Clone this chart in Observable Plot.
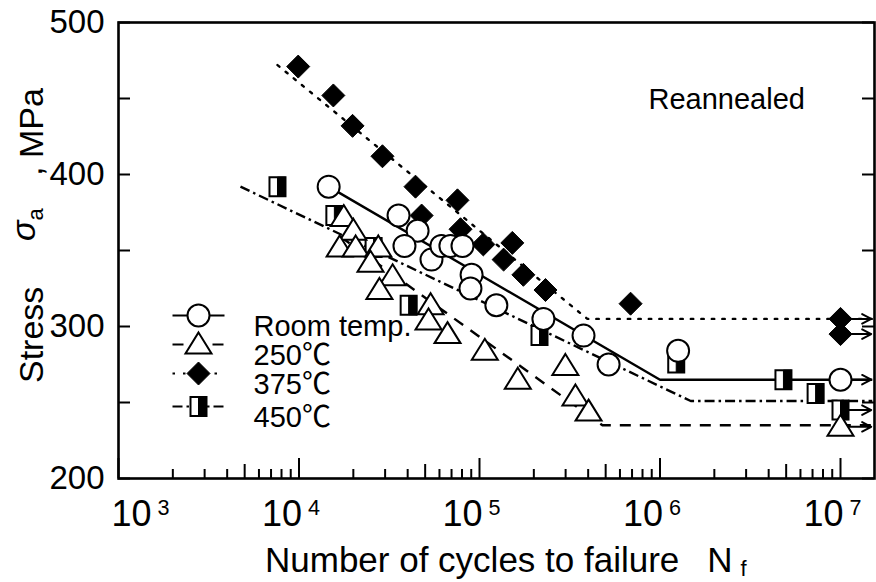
<!DOCTYPE html>
<html><head><meta charset="utf-8">
<script src="https://cdn.jsdelivr.net/npm/d3@7"></script>
<script src="https://cdn.jsdelivr.net/npm/@observablehq/plot@0.6"></script>
<style>
body{margin:0;background:#fff;}
#chart{width:876px;height:582px;}
</style></head><body><div id="chart"></div>
<script>
// ---------------- data ----------------
const seriesNames = ["Room temp.", "250℃", "375℃", "450℃"];
const runoutN = 1e7;          // run-out (no failure) cycles
const arrowEndN = 1.48e7;

// Room temperature (open circles)
const rtN = [1.46e4, 3.56e4, 4.54e4, 3.84e4, 5.42e4, 6.15e4, 6.9e4, 8.05e4, 9.04e4, 8.91e4, 1.24e5, 2.26e5, 3.77e5, 5.19e5, 1.26e6, 1e7];
const rtS = [392, 373, 363, 353, 344, 353, 353, 353, 334, 325, 314, 305, 294, 275, 284, 265];
// 250 C (open triangles)
const t250N = [1.77e4, 2.0e4, 1.68e4, 2.06e4, 2.75e4, 2.49e4, 3.3e4, 2.79e4, 5.36e4, 5.22e4, 6.65e4, 1.07e5, 1.63e5, 2.99e5, 3.4e5, 4.02e5, 1e7];
const t250S = [372, 363, 352, 352, 352, 342, 333, 324, 314, 304, 295, 284, 265, 274, 254, 244, 234];
// 375 C (filled diamonds)
const t375N = [9.9e3, 1.55e4, 1.98e4, 2.9e4, 4.42e4, 7.55e4, 4.78e4, 7.85e4, 1.05e5, 1.52e5, 1.36e5, 1.75e5, 2.32e5, 6.87e5, 1e7, 1e7];
const t375S = [471, 452, 432, 412, 392, 383, 373, 364, 354, 355, 344, 334, 324, 315, 305, 295];
// 450 C (half-filled squares)
const t450N = [7.6e3, 1.57e4, 2.59e4, 4.05e4, 2.15e5, 1.23e6, 4.83e6, 7.28e6, 1e7];
const t450S = [392, 373, 352, 314, 294, 276, 265, 256, 245];

// S-N fit lines (break points)
const rtLineN = [1.46e4, 1.0e6, 1.5e7];   const rtLineS = [392, 265, 265];
const t250LineN = [1.7e4, 4.8e5, 1.5e7];  const t250LineS = [359, 235, 235];
const t375LineN = [7.6e3, 3.96e5, 1.5e7]; const t375LineS = [472, 305, 305];
const t450LineN = [4.74e3, 1.48e6, 1.5e7]; const t450LineS = [392, 251, 251];

// axes
const xMajorTicks = [1e3, 1e4, 1e5, 1e6, 1e7];
const xDecades = [1e3, 1e4, 1e5, 1e6];
const xMinorMult = [2, 3, 4, 6, 7, 8, 9];
const xMidMult = [5];
const yTicks = [200, 250, 300, 350, 400, 450, 500];
const yLabelTicks = [200, 300, 400, 500];
const superDigits = {"3": "³", "4": "⁴", "5": "⁵", "6": "⁶", "7": "⁷"};

// ---------------- build ----------------
const pts = (N, S) => N.map((n, i) => ({n, s: S[i]}));
const rt = pts(rtN, rtS), d250 = pts(t250N, t250S), d375 = pts(t375N, t375S), d450 = pts(t450N, t450S);
const runouts = [...rt, ...d250, ...d375, ...d450].filter(d => d.n === runoutN);
const xMinor = xDecades.flatMap(d => xMinorMult.map(m => d * m));
const xMid = xDecades.flatMap(d => xMidMult.map(m => d * m));

const W = 876, H = 582, mL = 118, mR = 2, mT = 22, mB = 104;
const innerW = W - mL - mR, innerH = H - mT - mB;
const xMax = Math.pow(10, 7 + 34 / 180.5);

// custom symbols
const triSym = {draw(c) { c.moveTo(0, -12); c.lineTo(13, 9); c.lineTo(-13, 9); c.closePath(); }};
const diaSym = {draw(c) { const r = 11.5; c.moveTo(0, -r); c.lineTo(r, 0); c.lineTo(0, r); c.lineTo(-r, 0); c.closePath(); }};
const rectSym = {draw(c) { c.rect(-8, -9.5, 16, 19); }};
const halfSym = {draw(c) { c.rect(0, -9.5, 8, 19); }};
const lineSym = {draw(c) { c.moveTo(-26, 0); c.lineTo(26, 0); }};

const lineStyles = [
  {dash: null},
  {dash: "11,9"},
  {dash: "2.5,8"},
  {dash: "10,4,2.5,4"}
];

const font = "'Liberation Sans', Arial, Helvetica, 'Noto Sans CJK JP', sans-serif";

function markerMarks(data, kind, opts) {
  if (kind === 0) return [Plot.dot(data, {...opts, r: 11, fill: "white", stroke: "black", strokeWidth: 2})];
  if (kind === 1) return [Plot.dot(data, {...opts, symbol: triSym, fill: "white", stroke: "black", strokeWidth: 2})];
  if (kind === 2) return [Plot.dot(data, {...opts, symbol: diaSym, fill: "black", stroke: "black", strokeWidth: 1})];
  return [
    Plot.dot(data, {...opts, symbol: rectSym, fill: "white", stroke: "black", strokeWidth: 2}),
    Plot.dot(data, {...opts, symbol: halfSym, fill: "black", stroke: "black", strokeWidth: 1})
  ];
}

// legend layout (pixel offsets from the frame's top-left)
const legendRowsDy = [293, 322, 351, 384];
const legendMarks = seriesNames.flatMap((name, i) => {
  const base = {frameAnchor: "top-left", dx: 80, dy: legendRowsDy[i]};
  return [
    Plot.dot([name], {...base, symbol: lineSym, fill: "none", stroke: "black", strokeWidth: 2.2, strokeDasharray: lineStyles[i].dash}),
    ...markerMarks([name], i, base),
    Plot.text([name], {frameAnchor: "top-left", dx: 135, dy: legendRowsDy[i], text: d => d, textAnchor: "start", fontSize: 29, fill: "black"})
  ];
});

const fitLine = (N, S, i) => Plot.line(pts(N, S), {x: "n", y: "s", stroke: "black", strokeWidth: 2.4, strokeDasharray: lineStyles[i].dash, strokeLinecap: i === 2 ? "round" : "butt"});

const plot = Plot.plot({
  width: W, height: H,
  marginLeft: mL, marginRight: mR, marginTop: mT, marginBottom: mB,
  x: {type: "log", domain: [1e3, xMax]},
  y: {domain: [200, 500]},
  style: {fontFamily: font, background: "white", color: "black", overflow: "visible"},
  marks: [
    // tick marks (inward)
    Plot.ruleX(xMajorTicks, {x: d => d, insetTop: innerH - 20, strokeWidth: 2}),
    Plot.ruleX(xMid, {x: d => d, insetTop: innerH - 14, strokeWidth: 2}),
    Plot.ruleX(xMinor, {x: d => d, insetTop: innerH - 9, strokeWidth: 2}),
    Plot.ruleY(yTicks, {y: d => d, insetRight: innerW - 12, strokeWidth: 2}),
    Plot.ruleY(yTicks, {y: d => d, insetLeft: innerW - 12, strokeWidth: 2}),
    Plot.axisY({ticks: yLabelTicks, tickSize: 0, tickPadding: 14, fontSize: 33, tickFormat: d => String(d), label: null}),
    Plot.axisX({ticks: xMajorTicks, tickSize: 0, tickPadding: 22, fontSize: 36,
      tickFormat: d => "10" + superDigits[String(Math.round(Math.log10(d)))], label: null}),
    Plot.frame({stroke: "black", strokeWidth: 2.6}),
    // fit lines
    fitLine(rtLineN, rtLineS, 0),
    fitLine(t250LineN, t250LineS, 1),
    fitLine(t375LineN, t375LineS, 2),
    fitLine(t450LineN, t450LineS, 3),
    // run-out arrows
    Plot.arrow(runouts, {x1: "n", y1: "s", x2: () => arrowEndN, y2: "s", stroke: "black", strokeWidth: 2, headLength: 11, headAngle: 55}),
    // markers
    ...markerMarks(d450, 3, {x: "n", y: "s"}),
    ...markerMarks(d375, 2, {x: "n", y: "s"}),
    ...markerMarks(d250, 1, {x: "n", y: "s"}),
    ...markerMarks(rt, 0, {x: "n", y: "s"}),
    // legend & annotation
    ...legendMarks,
    Plot.text(["Reannealed"], {frameAnchor: "top-left", dx: 530, dy: 66, text: d => d, textAnchor: "start", fontSize: 29, fill: "black"})
  ]
});

// superscript exponents on x tick labels
const svg = d3.select(plot);
const inv = Object.fromEntries(Object.entries(superDigits).map(([k, v]) => [v, k]));
svg.selectAll('g[aria-label="x-axis tick label"] text').each(function() {
  const t = this.textContent;
  const exp = inv[t.slice(-1)] ?? t.slice(-1);
  const el = d3.select(this);
  el.text("10");
  el.append("tspan").attr("dx", 6).attr("dy", "-0.5em").attr("font-size", "0.6em").text(exp);
  el.attr("dx", exp === "3" ? 22 : -8);
});

// axis titles
svg.append("text")
  .attr("x", 265).attr("y", 572).attr("text-anchor", "start")
  .attr("font-family", font).attr("font-size", 35).attr("fill", "black")
  .call(t => {
    t.append("tspan").text("Number of cycles to failure");
    t.append("tspan").attr("dx", 28).text("N");
    t.append("tspan").attr("dx", 8).attr("dy", 4).attr("font-size", 22).text("f");
  });

const ylab = svg.append("g").attr("font-family", font).attr("font-size", 34).attr("fill", "black").attr("text-anchor", "start");
ylab.append("text").attr("transform", "translate(43,383) rotate(-90)").text("Stress");
ylab.append("text").attr("transform", "translate(35,241) rotate(-90)")
  .call(t => {
    t.append("tspan").attr("font-style", "italic").text("σ");
    t.append("tspan").attr("dy", 8).attr("font-size", 22).text("a");
  });
ylab.append("text").attr("transform", "translate(42,176) rotate(-90)").text(",");
ylab.append("text").attr("transform", "translate(43,158) rotate(-90)").text("MPa");

document.getElementById("chart").append(plot);
</script>
</body></html>
